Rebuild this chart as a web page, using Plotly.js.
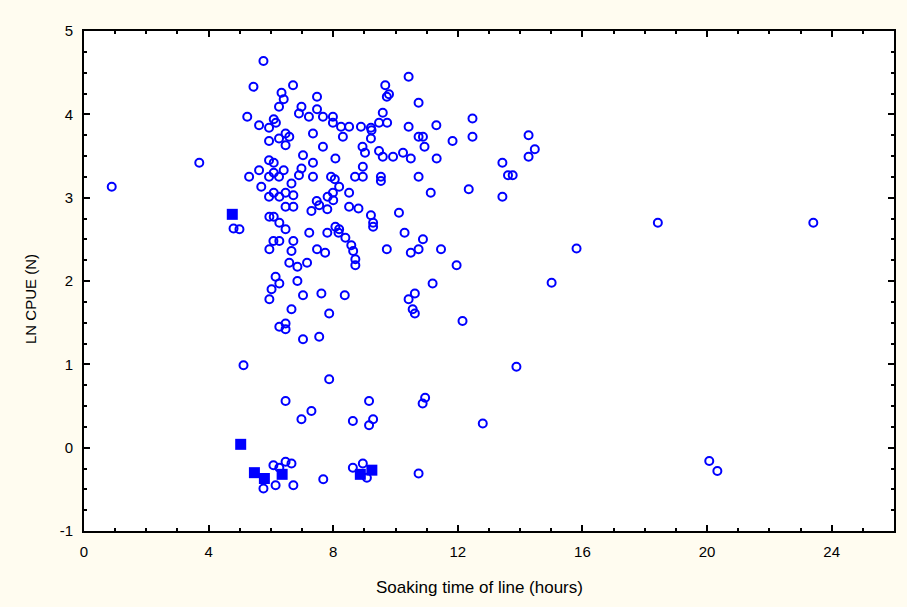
<!DOCTYPE html>
<html>
<head>
<meta charset="utf-8">
<script src="https://cdn.plot.ly/plotly-3.0.1.min.js"></script>
<style>html,body{margin:0;padding:0;background:#fffcf0;}#chart{width:907px;height:607px;}</style>
</head>
<body>
<div id="chart"></div>
<script>
// Open circles: soaking time (hours) and LN CPUE (N)
const circleSoak = [
  5.76,5.44,6.71,6.34,6.41,6.26,7.48,6.98,6.90,7.48,5.24,5.62,5.94,6.09,6.16,7.22,7.67,7.99,7.99,7.35,
  6.47,6.59,6.26,6.47,5.94,7.67,7.03,8.07,3.70,5.94,6.09,7.35,5.30,5.62,5.94,6.09,6.41,6.26,6.98,6.90,
  7.35,7.93,8.05,5.69,6.66,5.94,6.09,6.27,6.47,6.72,7.47,7.55,7.82,7.99,8.00,0.89,
  4.80,4.99,6.47,6.72,7.30,7.81,5.95,6.09,6.27,6.47,7.23,7.81,8.07,8.17,6.08,6.27,6.72,5.95,6.66,7.48,
  7.74,6.59,6.85,7.16,6.15,6.27,6.02,5.95,6.85,7.03,7.62,6.66,7.87,6.47,6.27,6.47,7.03,7.55,
  10.42,9.67,9.72,9.79,10.74,9.59,8.25,8.51,8.89,9.21,9.23,9.47,9.73,10.42,11.31,12.47,8.31,9.21,10.74,10.88,
  10.93,11.83,12.47,8.94,9.02,9.47,9.59,9.92,10.24,10.49,11.32,13.43,13.61,13.76,13.43,8.95,8.70,8.95,9.53,9.53,
  10.74,8.19,8.51,11.13,12.35,8.51,8.81,10.11,
  9.21,9.28,9.28,8.19,8.39,8.58,8.64,8.71,8.71,10.29,10.88,9.72,10.49,10.74,11.46,11.96,8.37,11.19,10.62,10.42,
  10.55,10.62,12.15,
  14.27,14.47,14.27,18.42,23.41,15.81,15.01,20.07,20.33,
  5.12,7.87,6.47,7.30,6.98,9.15,9.28,9.15,8.63,6.08,6.27,6.47,6.66,5.76,6.15,6.72,7.68,8.63,8.95,9.08,
  13.88,10.95,10.87,12.80,10.74
];
const circleCpue = [
  4.64,4.33,4.35,4.26,4.18,4.09,4.21,4.09,4.01,4.06,3.97,3.87,3.84,3.94,3.90,3.97,3.97,3.97,3.90,3.77,
  3.77,3.73,3.71,3.63,3.68,3.61,3.51,3.47,3.42,3.45,3.42,3.42,3.25,3.33,3.25,3.30,3.33,3.25,3.35,3.27,
  3.25,3.25,3.22,3.13,3.17,3.01,3.06,3.01,3.06,3.03,2.96,2.91,3.01,3.06,2.97,3.13,
  2.63,2.62,2.89,2.89,2.84,2.86,2.77,2.77,2.70,2.62,2.58,2.58,2.65,2.58,2.48,2.48,2.48,2.38,2.36,2.38,
  2.34,2.22,2.17,2.22,2.05,1.97,1.90,1.78,2.00,1.83,1.85,1.66,1.61,1.49,1.45,1.42,1.30,1.33,
  4.45,4.35,4.21,4.24,4.14,4.02,3.85,3.85,3.85,3.84,3.81,3.90,3.90,3.85,3.87,3.95,3.73,3.71,3.73,3.73,
  3.61,3.68,3.73,3.61,3.54,3.56,3.49,3.49,3.54,3.47,3.47,3.42,3.27,3.27,3.01,3.37,3.25,3.25,3.25,3.20,
  3.25,3.13,3.06,3.06,3.10,2.89,2.87,2.82,
  2.79,2.70,2.65,2.62,2.52,2.43,2.36,2.26,2.19,2.58,2.50,2.38,2.34,2.38,2.38,2.19,1.83,1.97,1.85,1.78,
  1.66,1.61,1.52,
  3.75,3.58,3.49,2.70,2.70,2.39,1.98,-0.16,-0.28,
  0.99,0.82,0.56,0.44,0.34,0.56,0.34,0.27,0.32,-0.21,-0.24,-0.17,-0.19,-0.49,-0.45,-0.45,-0.38,-0.24,-0.19,-0.36,
  0.97,0.60,0.53,0.29,-0.31
];
// Filled squares
const squareSoak = [4.76,5.03,5.47,5.79,6.36,8.87,9.24];
const squareCpue = [2.80,0.04,-0.30,-0.37,-0.32,-0.32,-0.27];

const xTickVals = [0,4,8,12,16,20,24];
const xTickText = ['0','4','8','12','16','20','24'];
const yTickVals = [-1,0,1,2,3,4,5];
const yTickText = ['-1','0','1','2','3','4','5'];
const xTitle = 'Soaking time of line (hours)';
const yTitle = 'LN CPUE (N)';

const blue = '#0000ff';
const traces = [
  {x: circleSoak, y: circleCpue, type: 'scatter', mode: 'markers', name: 'open',
   marker: {symbol: 'circle-open', size: 8, color: blue, line: {width: 2, color: blue}},
   hoverinfo: 'skip'},
  {x: squareSoak, y: squareCpue, type: 'scatter', mode: 'markers', name: 'filled',
   marker: {symbol: 'square', size: 11, color: blue}, hoverinfo: 'skip'}
];

const fontFam = 'Liberation Sans, Arial, sans-serif';
const W = 907, H = 607, mL = 84, mR = 13, mT = 31, mB = 76;
const pw = W - mL - mR, ph = H - mT - mB;
const layout = {
  width: W, height: H,
  paper_bgcolor: '#fffcf0', plot_bgcolor: '#ffffff',
  margin: {l: mL, r: mR, t: mT, b: mB},
  showlegend: false,
  font: {family: fontFam, size: 15, color: '#000'},
  xaxis: {
    range: [0, 26], tickmode: 'array', tickvals: xTickVals, ticktext: xTickText,
    ticks: 'inside', ticklen: 6, tickwidth: 2, tickcolor: '#000',
    minor: {dtick: 1, ticks: 'inside', ticklen: 3, tickwidth: 2, tickcolor: '#000', showgrid: false},
    showline: true, linewidth: 2, linecolor: '#000', mirror: 'allticks',
    showgrid: false, zeroline: false, ticklabelstandoff: 6,
    tickfont: {family: fontFam, size: 15}
  },
  yaxis: {
    range: [-1, 5], tickmode: 'array', tickvals: yTickVals, ticktext: yTickText,
    ticks: 'inside', ticklen: 6, tickwidth: 2, tickcolor: '#000',
    minor: {dtick: 0.25, ticks: 'inside', ticklen: 3, tickwidth: 2, tickcolor: '#000', showgrid: false},
    showline: true, linewidth: 2, linecolor: '#000', mirror: 'allticks',
    showgrid: false, zeroline: false, ticklabelstandoff: 6,
    tickfont: {family: fontFam, size: 15}
  },
  annotations: [
    {text: xTitle, xref: 'paper', yref: 'paper', x: (479 - mL) / pw, y: -(587 - (H - mB)) / ph,
     xanchor: 'center', yanchor: 'middle', showarrow: false, font: {family: fontFam, size: 17}},
    {text: yTitle, xref: 'paper', yref: 'paper', x: -(mL - 30) / pw, y: (H - mB - 299) / ph,
     xanchor: 'center', yanchor: 'middle', textangle: -90, showarrow: false, font: {family: fontFam, size: 15}}
  ]
};

Plotly.newPlot('chart', traces, layout, {displayModeBar: false, staticPlot: true});
</script>
</body>
</html>
